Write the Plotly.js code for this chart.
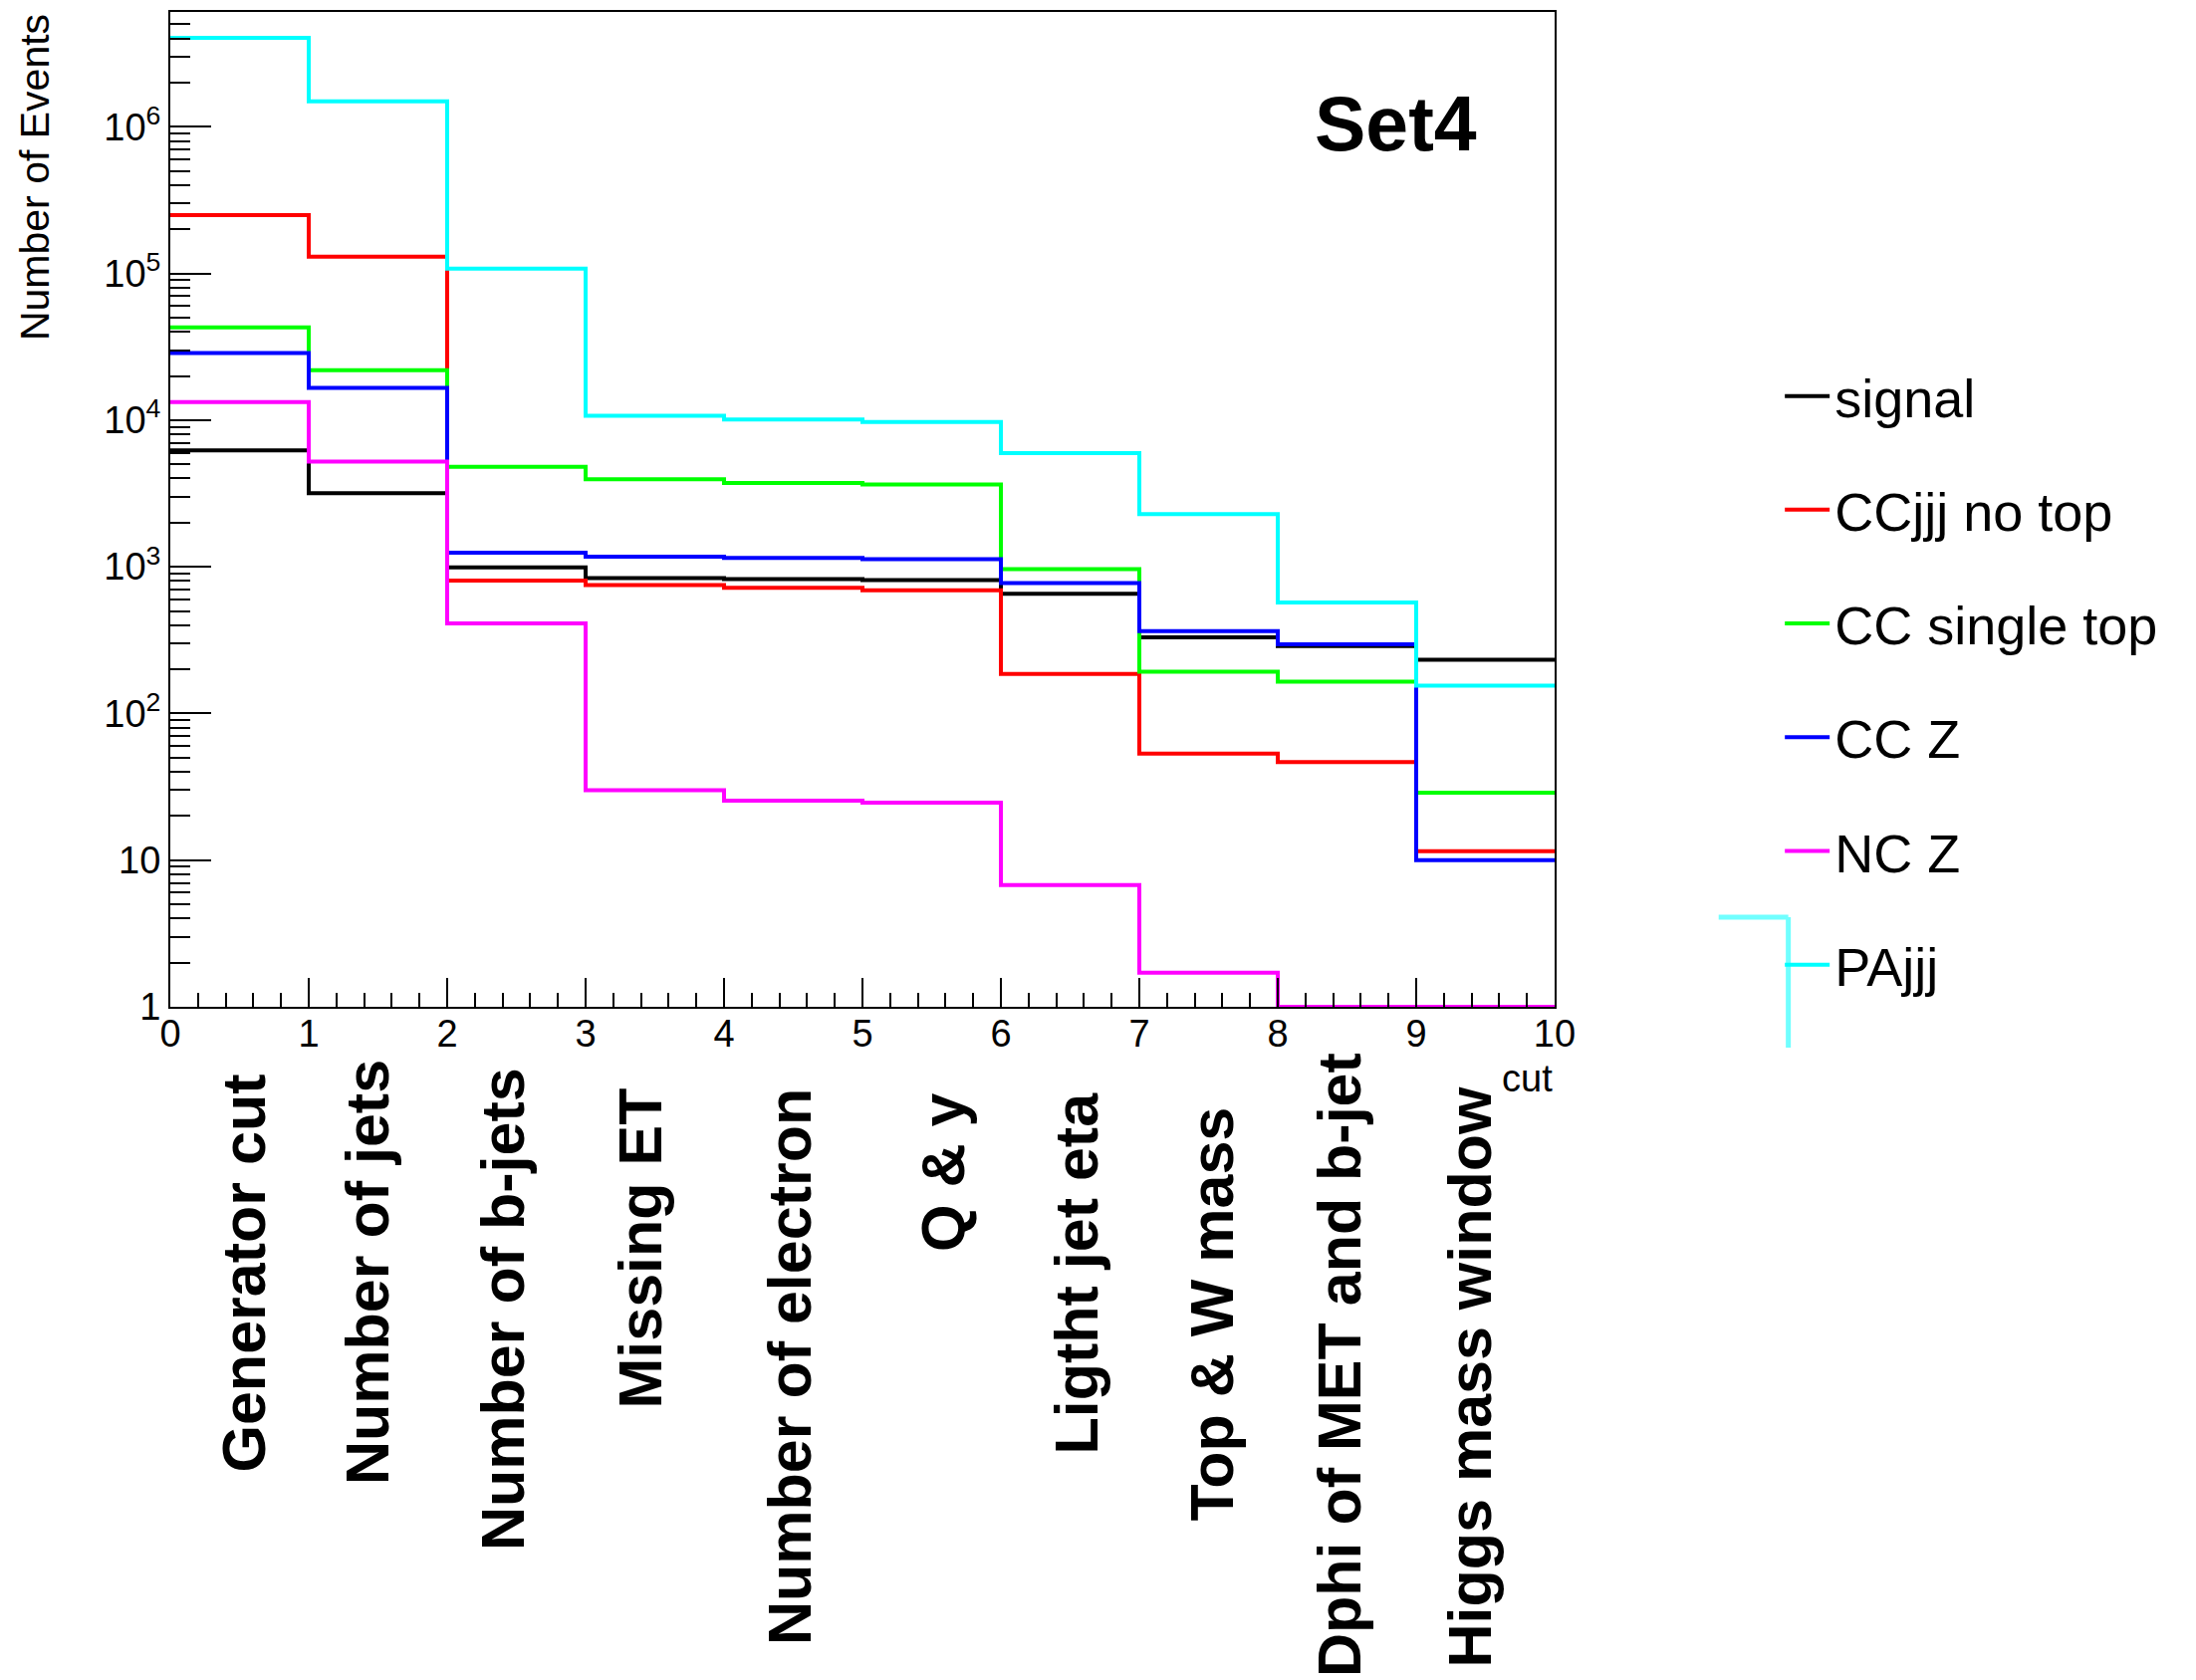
<!DOCTYPE html>
<html>
<head>
<meta charset="utf-8">
<script src="https://cdn.plot.ly/plotly-3.0.1.min.js"></script>
<style>
  html, body { margin: 0; padding: 0; background: #ffffff; }
  #chart { width: 2205px; height: 1687px; }
</style>
</head>
<body>
<div id="chart"></div>
<script>
// Cut-flow bin edges and the name of each selection step
const cutEdges = [0, 1, 2, 3, 4, 5, 6, 7, 8, 9, 10];
const cutNames = [
  'Generator cut', 'Number of jets', 'Number of b-jets', 'Missing ET',
  'Number of electron', 'Q & y', 'Ligtht jet eta', 'Top & W mass',
  'Dphi of MET and b-jet', 'Higgs mass window'
];

// Events surviving each cut, per sample
const signal      = [6210, 3180, 989, 839, 826, 812, 656, 330, 288, 232];
const ccjjjNoTop  = [250000, 130000, 804, 752, 720, 692, 186, 53.3, 46.7, 11.5];
const ccSingleTop = [42900, 21900, 4800, 3960, 3730, 3640, 964, 193, 165, 28.8];
const ccZ         = [28700, 16600, 1250, 1170, 1150, 1128, 774, 365, 296, 10.0];
const ncZ         = [13300, 5220, 411, 30, 25.4, 24.7, 6.75, 1.71, 1, 1];
const paJjj       = [4040000, 1490000, 108000, 10700, 10100, 9720, 5960, 2290, 572, 155];

const sampleNames  = ['signal', 'CCjjj no top', 'CC single top', 'CC Z', 'NC Z', 'PAjjj'];
const sampleValues = [signal, ccjjjNoTop, ccSingleTop, ccZ, ncZ, paJjj];
const sampleColors = ['#000000', '#ff0000', '#00ff00', '#0000ff', '#ff00ff', '#00ffff'];

// Y tick labels (decades)
const yTickVals = [1, 10, 100, 1e3, 1e4, 1e5, 1e6];
const yTickText = ['1', '10', '10<sup>2</sup>', '10<sup>3</sup>', '10<sup>4</sup>', '10<sup>5</sup>', '10<sup>6</sup>'];

// Placement of the vertical cut-name labels: top edge (px from page top) and sideways nudge (px)
const cutLabelTopPx  = [1077, 1062, 1070, 1091, 1091, 1096, 1095, 1110, 1055, 1089];
const cutLabelShift  = [4, -11, -14, -15, -4, 11, 6, 3, -8, -16];

const FONT = 'Liberation Sans, Arial, Helvetica, sans-serif';

// Page geometry of the plotting area (px)
const PLOT_TOP = 12, PLOT_BOTTOM = 1011;
const toPaperY = py => (PLOT_BOTTOM - py) / (PLOT_BOTTOM - PLOT_TOP);

// Minor log ticks: 2..9 within each decade
const yMinor = [];
for (let k = 0; k <= 6; k++) {
  for (let m = 2; m <= 9; m++) yMinor.push(m * Math.pow(10, k));
}

// Step-histogram traces: each bin value held across [edge_i, edge_i+1]
const traces = sampleValues.map((vals, i) => ({
  type: 'scatter',
  mode: 'lines',
  name: sampleNames[i],
  legendgroup: 'g' + i,
  x: cutEdges,
  y: vals.concat([vals[vals.length - 1]]),
  line: { shape: 'hv', color: sampleColors[i], width: 4 },
  hoverinfo: 'skip'
}));

// Vertical cut-name labels under each bin
const cutLabels = cutNames.map((name, i) => ({
  text: name,
  x: (cutEdges[i] + cutEdges[i + 1]) / 2,
  xref: 'x',
  xshift: cutLabelShift[i],
  y: toPaperY(cutLabelTopPx[i]),
  yref: 'paper',
  xanchor: 'center',
  yanchor: 'top',
  textangle: -90,
  showarrow: false,
  font: { family: FONT, size: 61, color: '#000000', weight: 'bold' }
}));

const layout = {
  width: 2205,
  height: 1687,
  margin: { l: 171, r: 644, t: PLOT_TOP, b: 1687 - PLOT_BOTTOM },
  paper_bgcolor: '#ffffff',
  plot_bgcolor: '#ffffff',
  font: { family: FONT, color: '#000000' },
  showlegend: true,
  legend: {
    x: 1.1627,
    xanchor: 'left',
    y: 0.6556,
    yanchor: 'top',
    traceorder: 'grouped',
    tracegroupgap: 41,
    itemwidth: 45,
    bgcolor: 'rgba(0,0,0,0)',
    borderwidth: 0,
    font: { family: FONT, size: 54, color: '#000000' }
  },
  xaxis: {
    range: [0, 10],
    tickmode: 'linear',
    tick0: 0,
    dtick: 1,
    ticks: 'inside',
    ticklen: 29,
    tickwidth: 2,
    tickcolor: '#000000',
    ticklabelstandoff: -8,
    showline: true,
    linecolor: '#000000',
    linewidth: 2,
    mirror: true,
    showgrid: false,
    zeroline: false,
    tickfont: { family: FONT, size: 38, color: '#000000' },
    minor: { dtick: 0.2, ticks: 'inside', ticklen: 14, tickwidth: 2, tickcolor: '#000000', showgrid: false }
  },
  yaxis: {
    type: 'log',
    range: [0, 6.783],
    tickmode: 'array',
    tickvals: yTickVals,
    ticktext: yTickText,
    ticks: 'inside',
    ticklen: 41,
    tickwidth: 2,
    tickcolor: '#000000',
    showline: true,
    linecolor: '#000000',
    linewidth: 2,
    mirror: true,
    showgrid: false,
    zeroline: false,
    tickfont: { family: FONT, size: 38, color: '#000000' },
    minor: { tickmode: 'array', tickvals: yMinor, ticks: 'inside', ticklen: 20, tickwidth: 2, tickcolor: '#000000', showgrid: false }
  },
  annotations: [
    {
      text: 'Number of Events',
      xref: 'paper', x: -0.0978, xanchor: 'center',
      yref: 'paper', y: 1, yanchor: 'top',
      textangle: -90, showarrow: false,
      font: { family: FONT, size: 41, color: '#000000' }
    },
    {
      text: 'Set4',
      xref: 'paper', x: 0.8856, xanchor: 'center',
      yref: 'paper', y: 0.888, yanchor: 'middle',
      showarrow: false,
      font: { family: FONT, size: 77, color: '#000000', weight: 'bold' }
    },
    {
      text: 'cut',
      xref: 'paper', x: 1, xanchor: 'right',
      yref: 'paper', y: -0.072, yanchor: 'middle',
      showarrow: false,
      font: { family: FONT, size: 38, color: '#000000' }
    }
  ].concat(cutLabels),
  shapes: [
    // error-bar style glyph on the PAjjj legend key
    { type: 'line', xref: 'paper', yref: 'paper', x0: 1.1688, x1: 1.1688, y0: toPaperY(921), y1: toPaperY(1052),
      line: { color: '#70ffff', width: 5 } },
    { type: 'line', xref: 'paper', yref: 'paper', x0: 1.1185, x1: 1.1688, y0: toPaperY(921), y1: toPaperY(921),
      line: { color: '#70ffff', width: 5 } }
  ]
};

Plotly.newPlot('chart', traces, layout, { displayModeBar: false, staticPlot: true });
</script>
</body>
</html>
